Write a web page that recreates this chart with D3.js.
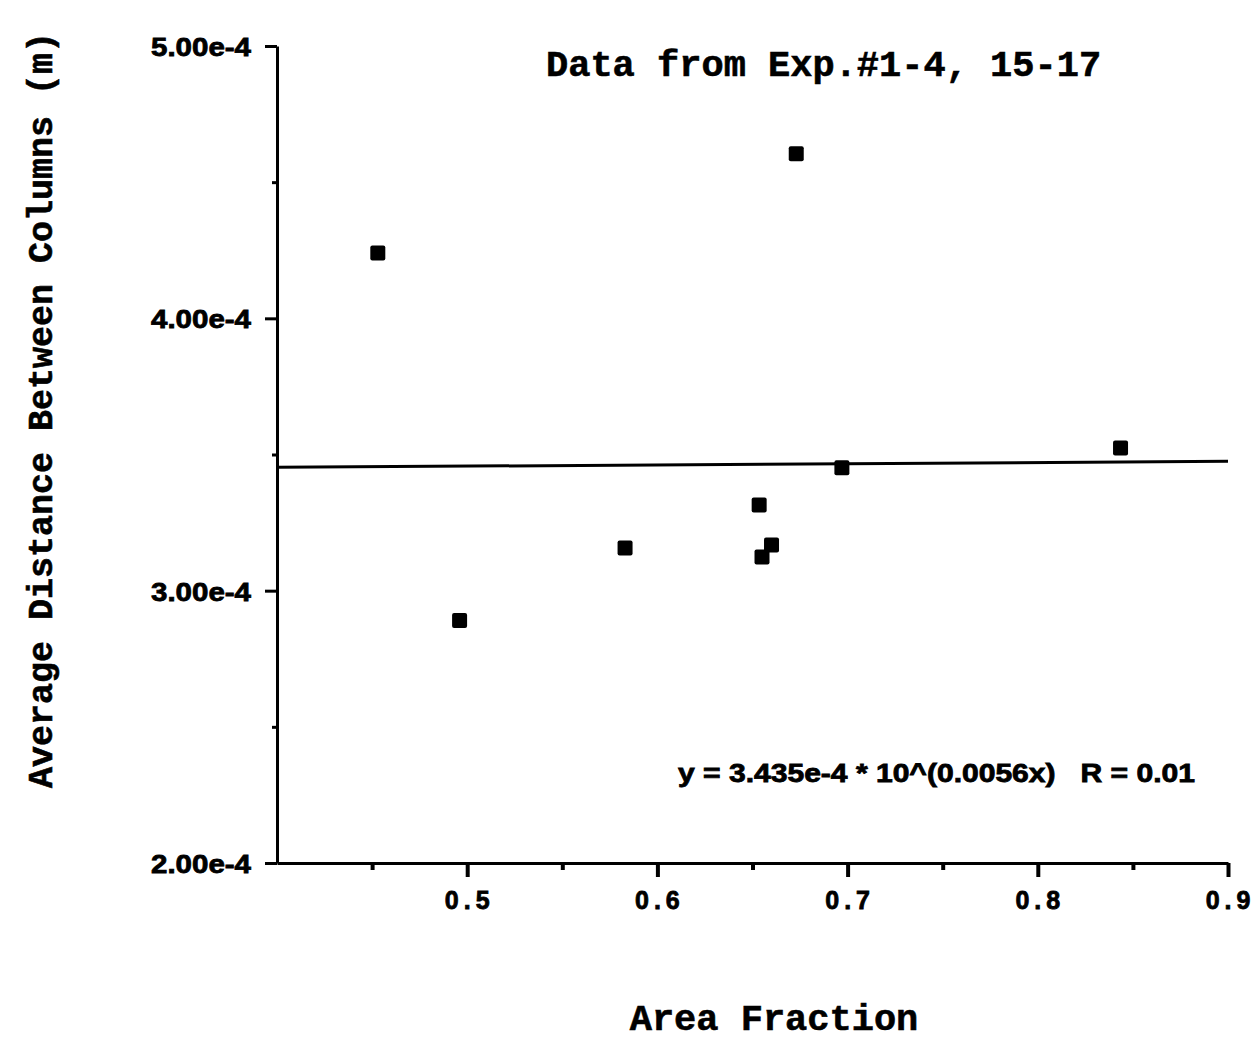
<!DOCTYPE html>
<html>
<head>
<meta charset="utf-8">
<script src="https://cdn.jsdelivr.net/npm/d3@7"></script>
<style>
  body { margin: 0; background: #fff; }
  .tick-lbl { font-family: "Liberation Sans", Arial, sans-serif; font-weight: bold; stroke: #000; stroke-width: 0.8px; }
  .mono { font-family: "Liberation Mono", "Courier New", monospace; font-weight: bold; stroke: #000; stroke-width: 0.6px; }
</style>
</head>
<body>
<div id="chart"></div>
<script>
// data
var areaFraction = [0.453, 0.496, 0.583, 0.6535, 0.655, 0.660, 0.673, 0.697, 0.8435];
var avgDistance  = [4.24e-4, 2.89e-4, 3.157e-4, 3.315e-4, 3.124e-4, 3.168e-4, 4.604e-4, 3.451e-4, 3.524e-4];

var xTickValues = [0.5, 0.6, 0.7, 0.8, 0.9];
var xMinorTicks = [0.45, 0.55, 0.65, 0.75, 0.85];
var yTickValues = [2e-4, 3e-4, 4e-4, 5e-4];
var yTickLabels = ["2.00e-4", "3.00e-4", "4.00e-4", "5.00e-4"];
var yMinorTicks = [2.5e-4, 3.5e-4, 4.5e-4];

// fit: y = 3.435e-4 * 10^(0.0056x)
var fitA = 3.435e-4, fitB = 0.0056;
var fitX = [0.4, 0.9];

(function(){
  var svg = d3.select("#chart").append("svg")
              .attr("width", 1260)
              .attr("height", 1047);

  var margin = {top: 46, left: 277, right: 32, bottom: 184};
  var width = 1260 - margin.left - margin.right;
  var height = 1047 - margin.top - margin.bottom;

  var x = d3.scaleLinear().domain([0.4, 0.9]).range([0, width]);
  var y = d3.scaleLinear().domain([2e-4, 5e-4]).range([height, 0]);

  var g = svg.append("g")
             .attr("transform", "translate(" + margin.left + "," + margin.top + ")");

  // x axis
  var xa = g.append("g")
      .attr("transform", "translate(0," + height + ")")
      .call(d3.axisBottom(x).tickValues(xTickValues).tickSize(14).tickSizeOuter(0).tickPadding(14)
              .tickFormat(d3.format(".1f")));
  xa.select(".domain").attr("stroke-width", 3);
  xa.selectAll(".tick line").attr("stroke-width", 4);
  xa.selectAll(".tick text").attr("class", "tick-lbl")
      .style("font-size", "25px").style("letter-spacing", "5px").attr("dx", "2px");

  g.append("g")
      .attr("transform", "translate(0," + height + ")")
      .call(d3.axisBottom(x).tickValues(xMinorTicks).tickSize(7).tickSizeOuter(0).tickFormat(""))
      .call(function(s){ s.select(".domain").remove(); })
      .selectAll(".tick line").attr("stroke-width", 4);

  // y axis
  var ya = g.append("g")
      .call(d3.axisLeft(y).tickValues(yTickValues).tickSize(12).tickSizeOuter(0).tickPadding(14)
              .tickFormat(function(d, i){ return yTickLabels[i]; }));
  ya.select(".domain").attr("stroke-width", 3);
  ya.selectAll(".tick line").attr("stroke-width", 3);
  ya.selectAll(".tick text").attr("class", "tick-lbl")
      .style("font-size", "26px").attr("dy", "0.36em")
      .attr("textLength", 100).attr("lengthAdjust", "spacingAndGlyphs");

  g.append("g")
      .call(d3.axisLeft(y).tickValues(yMinorTicks).tickSize(5).tickSizeOuter(0).tickFormat(""))
      .call(function(s){ s.select(".domain").remove(); })
      .selectAll(".tick line").attr("stroke-width", 3);

  // fit line
  var line = d3.line()
      .x(function(d){ return x(d); })
      .y(function(d){ return y(fitA * Math.pow(10, fitB * d)); });

  g.append("path")
      .datum(fitX)
      .attr("fill", "none")
      .attr("stroke", "#000")
      .attr("stroke-width", 3)
      .attr("d", line);

  // points
  var pts = areaFraction.map(function(v, i){ return {x: v, y: avgDistance[i]}; });
  var s = 15;
  g.selectAll("rect.pt")
      .data(pts)
      .enter().append("rect")
      .attr("class", "pt")
      .attr("x", function(d){ return x(d.x) - s/2; })
      .attr("y", function(d){ return y(d.y) - s/2; })
      .attr("width", s)
      .attr("height", s)
      .attr("rx", 2)
      .attr("fill", "#000");

  // texts
  svg.append("text")
      .attr("class", "mono")
      .attr("x", 546).attr("y", 76)
      .style("font-size", "37px")
      .text("Data from Exp.#1-4, 15-17");

  svg.append("text")
      .attr("class", "tick-lbl")
      .attr("x", 678).attr("y", 782)
      .style("font-size", "25px")
      .style("white-space", "pre")
      .attr("textLength", 517)
      .attr("lengthAdjust", "spacingAndGlyphs")
      .text("y = 3.435e-4 * 10^(0.0056x)   R = 0.01");

  svg.append("text")
      .attr("class", "mono")
      .attr("text-anchor", "middle")
      .attr("x", 774).attr("y", 1030)
      .style("font-size", "37px")
      .text("Area Fraction");

  svg.append("text")
      .attr("class", "mono")
      .attr("text-anchor", "middle")
      .attr("transform", "translate(52,410)rotate(-90)")
      .style("font-size", "35px")
      .text("Average Distance Between Columns (m)");
})();
</script>
</body>
</html>
